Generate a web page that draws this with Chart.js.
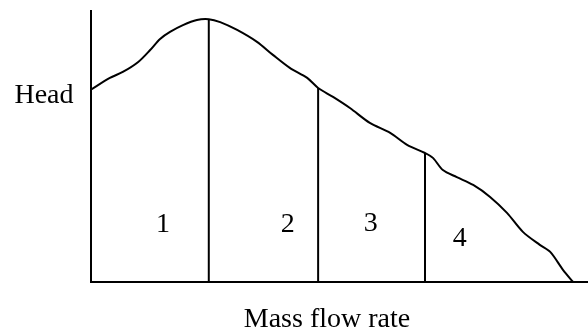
<!DOCTYPE html>
<html>
<head>
<meta charset="utf-8">
<script src="https://cdn.jsdelivr.net/npm/chart.js@4/dist/chart.umd.min.js"></script>
<style>
  html, body { margin: 0; padding: 0; background: #fff; }
  #wrap { width: 588px; height: 333px; }
</style>
</head>
<body>
<div id="wrap"><canvas id="c" width="588" height="333"></canvas></div>
<script>
// Compressor characteristic: head versus mass flow rate (arbitrary units)
const flowRate = [0, 3.8, 6.4, 9.5, 11.9, 13.9, 15.9, 18.5, 21.3, 23.7, 26.0, 29.4, 33.4, 36.6, 40.0, 43.5, 45.7, 48.7, 52.1, 56.1, 60.2, 63.6, 67.2, 68.8, 70.8, 73.6, 76.9, 80.3, 83.7, 86.9, 90.3, 92.4, 95.0, 97.0];
const head     = [71, 75.3, 77.5, 81.2, 85.6, 89.7, 92.3, 94.8, 96.7, 97.0, 95.9, 93.0, 88.6, 83.8, 79.0, 75.3, 71.6, 68.3, 64.2, 58.7, 55.0, 50.6, 47.6, 45.8, 41.3, 38.7, 35.8, 31.4, 25.5, 18.5, 13.7, 11.1, 4.4, 0];

// Boundaries between operating regions (flow rate) and the head where each meets the curve
const boundaryFlow = [23.7, 45.7, 67.2];
const boundaryHead = [97.0, 71.6, 47.6];

// Region numbers and where they sit
const regionLabels = ['1', '2', '3', '4'];
const regionLabelFlow = [14.5, 39.6, 56.3, 74.2];
const regionLabelHead = [21.0, 21.0, 21.4, 15.9];

const xTitle = 'Mass flow rate';
const yTitle = 'Head';

const FONT = '28px "Liberation Serif", "Times New Roman", serif';

const datasets = [{
  data: flowRate.map((x, i) => ({ x, y: head[i] })),
  borderColor: '#000',
  borderWidth: 2,
  pointRadius: 0,
  tension: 0.3,
  fill: false
}];
boundaryFlow.forEach((x, i) => {
  datasets.push({
    data: [{ x, y: 0 }, { x, y: boundaryHead[i] }],
    borderColor: '#000',
    borderWidth: 2,
    pointRadius: 0,
    tension: 0,
    fill: false
  });
});

const textPlugin = {
  id: 'texts',
  afterDraw(chart) {
    const { ctx, scales: { x, y } } = chart;
    ctx.save();
    ctx.fillStyle = '#000';
    ctx.font = FONT;
    ctx.textAlign = 'center';
    ctx.textBaseline = 'middle';
    regionLabels.forEach((t, i) => {
      ctx.fillText(t, x.getPixelForValue(regionLabelFlow[i]), y.getPixelForValue(regionLabelHead[i]));
    });
    ctx.fillText(yTitle, 44, 96);
    ctx.fillText(xTitle, 327, 320);
    ctx.restore();
  }
};

new Chart(document.getElementById('c'), {
  type: 'line',
  data: { datasets },
  options: {
    responsive: false,
    animation: false,
    layout: { padding: { left: 91, top: 11, right: 0, bottom: 51 } },
    plugins: { legend: { display: false }, tooltip: { enabled: false } },
    scales: {
      x: {
        type: 'linear',
        min: 0,
        max: 100,
        grid: { display: false },
        ticks: { display: false },
        border: { display: true, color: '#000', width: 2 },
        afterFit(s) { s.height = 0; }
      },
      y: {
        type: 'linear',
        min: 0,
        max: 100,
        grid: { display: false },
        ticks: { display: false },
        border: { display: true, color: '#000', width: 2 },
        afterFit(s) { s.width = 0; }
      }
    }
  },
  plugins: [textPlugin]
});
</script>
</body>
</html>
